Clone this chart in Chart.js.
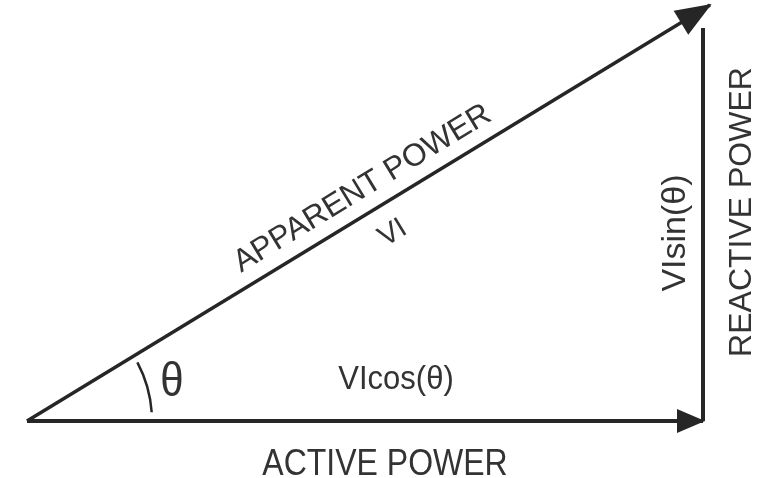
<!DOCTYPE html>
<html>
<head>
<meta charset="utf-8">
<script src="https://cdn.jsdelivr.net/npm/chart.js@4"></script>
<style>
  html, body { margin: 0; padding: 0; background: #ffffff; }
  canvas { display: block; }
</style>
</head>
<body>
<canvas id="c" width="759" height="478"></canvas>
<script>
// ---- data (diagram units, y pointing up) ----
const vectorNames = ['ACTIVE POWER', 'REACTIVE POWER', 'APPARENT POWER'];
const startX = [27, 703, 27];
const startY = [57, 57, 57];
const endX   = [703, 703, 710];
const endY   = [57, 450, 473];
const hasArrow = [true, false, true];

// ---- text annotations ----
const labelTexts = ['APPARENT POWER', 'VI', 'θ', 'VIcos(θ)', 'ACTIVE POWER', 'VIsin(θ)', 'REACTIVE POWER'];

const INK = '#262626';
const TEXT = '#333333';
const FONT = '"Liberation Sans", Arial, Helvetica, sans-serif';

const datasets = vectorNames.map((name, i) => ({
  label: name,
  data: [{x: startX[i], y: startY[i]}, {x: endX[i], y: endY[i]}],
  showLine: true,
  borderColor: INK,
  backgroundColor: INK,
  borderWidth: i === 2 ? 3.5 : 4,
  pointRadius: 0,
  pointHoverRadius: 0,
  arrow: hasArrow[i],
  arrowLen: i === 2 ? 34 : 26,
  arrowHalf: i === 2 ? 14 : 12
}));

const bgPlugin = {
  id: 'bg',
  beforeDraw(chart) {
    const ctx = chart.ctx;
    ctx.save();
    ctx.fillStyle = '#ffffff';
    ctx.fillRect(0, 0, chart.width, chart.height);
    ctx.restore();
  }
};

const arrowPlugin = {
  id: 'arrows',
  afterDatasetsDraw(chart) {
    const ctx = chart.ctx;
    chart.data.datasets.forEach((ds, i) => {
      if (!ds.arrow) return;
      const meta = chart.getDatasetMeta(i);
      const n = meta.data.length;
      const p1 = meta.data[n - 2], p2 = meta.data[n - 1];
      const a = Math.atan2(p2.y - p1.y, p2.x - p1.x);
      const L = ds.arrowLen, W = ds.arrowHalf;
      ctx.save();
      ctx.translate(p2.x, p2.y);
      ctx.rotate(a);
      ctx.fillStyle = ds.borderColor;
      ctx.beginPath();
      ctx.moveTo(2, 0);
      ctx.lineTo(-L, -W);
      ctx.lineTo(-L, W);
      ctx.closePath();
      ctx.fill();
      ctx.restore();
    });
  }
};

const annotPlugin = {
  id: 'annot',
  afterDraw(chart, args, opts) {
    const ctx = chart.ctx;
    const xs = chart.scales.x, ys = chart.scales.y;
    // angle arc at the origin of the triangle
    const ox = xs.getPixelForValue(startX[0]);
    const oy = ys.getPixelForValue(startY[0]);
    ctx.save();
    ctx.strokeStyle = INK;
    ctx.lineWidth = 2.5;
    ctx.beginPath();
    ctx.arc(ox, oy, opts.arcRadius, -opts.arcFrom * Math.PI / 180, -opts.arcTo * Math.PI / 180);
    ctx.stroke();
    ctx.restore();

    opts.labels.forEach((l, i) => {
      ctx.save();
      ctx.translate(xs.getPixelForValue(l.x), ys.getPixelForValue(l.y));
      ctx.rotate(l.rot * Math.PI / 180);
      ctx.scale(l.sx || 1, l.sy || 1);
      ctx.font = l.size + 'px ' + FONT;
      ctx.fillStyle = TEXT;
      ctx.textAlign = 'center';
      ctx.textBaseline = 'alphabetic';
      ctx.fillText(labelTexts[i], 0, 0);
      ctx.restore();
    });
  }
};

new Chart(document.getElementById('c'), {
  type: 'scatter',
  data: { datasets },
  options: {
    responsive: false,
    animation: false,
    devicePixelRatio: 1,
    layout: { padding: 0 },
    scales: {
      x: { type: 'linear', min: 0, max: 759, display: false },
      y: { type: 'linear', min: 0, max: 478, display: false }
    },
    plugins: {
      legend: { display: false },
      tooltip: { enabled: false },
      annot: {
        arcRadius: 125,
        arcFrom: 28,
        arcTo: 4,
        labels: [
          { x: 367, y: 282, rot: -31.3, size: 31.5 },
          { x: 397, y: 238, rot: -31.3, size: 29 },
          { x: 172, y: 82, rot: 0, size: 42, sy: 1.15 },
          { x: 396, y: 89, rot: 0, size: 31, sy: 1.05 },
          { x: 385, y: 3, rot: 0, size: 32, sy: 1.17 },
          { x: 685, y: 245, rot: -90, size: 34 },
          { x: 751, y: 266, rot: -90, size: 32 }
        ]
      }
    }
  },
  plugins: [bgPlugin, arrowPlugin, annotPlugin]
});
</script>
</body>
</html>
